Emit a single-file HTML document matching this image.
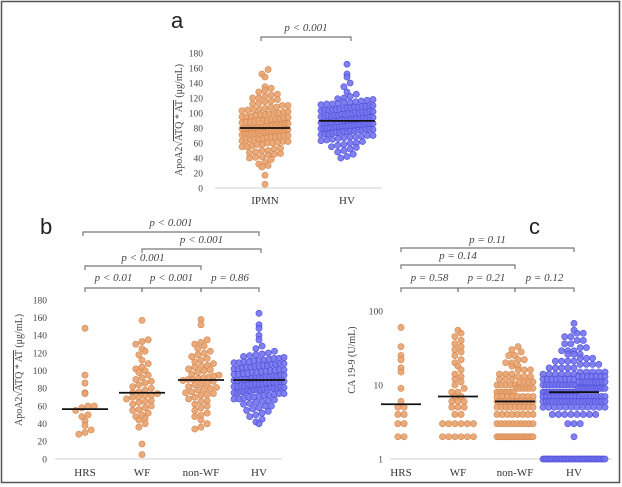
<!DOCTYPE html>
<html><head><meta charset="utf-8"><style>
html,body{margin:0;padding:0;background:#fff}
svg{display:block}
.tk{font-family:"Liberation Serif",serif;font-size:9.5px;fill:#444}
.cat{font-family:"Liberation Serif",serif;font-size:11px;fill:#333}
.pv{font-family:"Liberation Serif",serif;font-size:11px;font-style:italic;fill:#444}
.ttl{font-family:"Liberation Serif",serif;font-size:10px;fill:#444}
.lab{font-family:"Liberation Sans",sans-serif;font-size:22px;fill:#222}
</style></head><body>
<svg id="fig" width="622" height="487" viewBox="0 0 622 487" xmlns="http://www.w3.org/2000/svg">
<rect x="1.5" y="1.5" width="618" height="481" fill="none" stroke="#555" stroke-width="1.5"/>
<text class="lab" x="171" y="28">a</text>
<text class="lab" x="40" y="234">b</text>
<text class="lab" x="529" y="234">c</text>
<text class="ttl" transform="translate(182,120) rotate(-90)" text-anchor="middle">ApoA2√<tspan style="text-decoration:overline">ATQ * AT</tspan> (μg/mL)</text>
<text class="ttl" transform="translate(22,370) rotate(-90)" text-anchor="middle">ApoA2√<tspan style="text-decoration:overline">ATQ * AT</tspan> (μg/mL)</text>
<text class="ttl" transform="translate(355,360) rotate(-90)" text-anchor="middle">CA 19-9 (U/mL)</text>
<g id="ga"></g><g id="gb"></g><g id="gc"></g>
</svg>
<script>
// ---- data ----
const catsA = ["IPMN","HV"];
const catsBC = ["HRS","WF","non-WF","HV"];
const ticksLin = [0,20,40,60,80,100,120,140,160,180];
const ticksLog = [1,10,100];
const ipmnVals = [5,17,28,30,32,35,38,40,41,42,44,45,46,47,48,50,50,52,53,55,55,56,58,58,60,60,61,62,62,63,63,64,65,65,66,67,68,68,69,70,70,71,72,72,73,73,74,74,74,75,75,76,76,77,78,78,79,79,80,80,80,81,81,82,82,83,84,84,85,85,86,86,87,88,88,89,90,90,90,91,92,92,93,94,95,95,96,97,98,98,99,100,100,101,102,103,104,105,105,106,108,108,110,110,112,113,115,116,118,120,120,122,124,125,128,130,133,135,148,152,158];
const hvVals = [40,42,45,48,50,52,54,55,57,58,60,60,62,63,64,65,66,67,68,68,69,70,70,71,72,72,73,74,74,75,75,76,76,77,77,78,78,78,79,79,80,80,80,81,81,82,82,83,83,84,84,85,85,85,86,86,87,87,88,88,89,89,90,90,90,91,91,92,92,93,93,94,94,95,95,96,96,97,97,98,98,99,99,100,100,101,101,102,102,103,104,104,105,105,106,106,107,107,108,108,109,109,110,110,111,112,112,113,114,114,115,116,117,118,119,120,122,125,128,135,140,148,152,165];
const hrsVals = [28,30,33,38,43,48,50,55,58,60,60,74,75,86,95,148];
const wfVals = [5,17,36,40,44,46,48,50,52,55,56,58,60,62,64,65,66,68,70,70,72,72,74,75,76,78,80,82,84,86,88,90,92,95,98,100,102,104,108,112,118,122,125,130,133,135,157];
const nonwfVals = [34,36,40,44,48,50,52,55,58,60,62,65,66,68,70,72,73,74,75,76,78,79,80,81,82,84,85,86,88,89,90,90,91,92,93,94,95,96,98,100,101,102,104,105,106,108,110,112,114,116,118,120,122,125,128,130,132,135,152,158];
// CA19-9 as [value, count] runs
const caHrs = [[2,2],[3,2],[4,2],[5,2],[6,1],[9,1],[15,1],[17,1],[22,1],[25,1],[33,1],[60,1]];
const caWf = [[2,6],[3,6],[4,2],[5,3],[6,3],[7,2],[8,2],[9,1],[10,1],[11,1],[12,1],[13,1],[14,1],[16,1],[18,1],[20,1],[22,1],[25,1],[28,1],[30,1],[33,1],[36,1],[40,1],[45,1],[50,1],[55,1]];
const caNonwf = [[2,18],[3,10],[4,8],[5,9],[6,10],[7,8],[8,6],[9,6],[10,5],[11,4],[12,3],[13,3],[14,3],[16,3],[18,2],[20,2],[22,2],[25,2],[28,1],[30,1],[33,1]];
const caHv = [[1,36],[2,1],[3,3],[4,8],[5,12],[6,20],[7,18],[8,16],[9,13],[10,11],[11,9],[12,8],[13,7],[14,6],[15,5],[17,5],[19,4],[21,4],[23,3],[26,3],[29,3],[32,2],[36,2],[40,2],[45,2],[50,2],[55,1],[68,1]];
const pA = ["p < 0.001"];
const pB = ["p < 0.01","p < 0.001","p = 0.86","p < 0.001","p < 0.001","p < 0.001"];
const pC = ["p = 0.58","p = 0.21","p = 0.12","p = 0.14","p = 0.11"];
// ---- helpers ----
const NS="http://www.w3.org/2000/svg";
function mk(parent,tag,attrs){const e=document.createElementNS(NS,tag);for(const k in attrs)e.setAttribute(k,attrs[k]);parent.appendChild(e);return e;}
function expand(runs){const o=[];runs.forEach(r=>{for(let i=0;i<r[1];i++)o.push(r[0]);});return o;}
function median(a){const s=a.slice().sort((x,y)=>x-y);const n=s.length;return n%2?s[(n-1)/2]:(s[n/2-1]+s[n/2])/2;}
const ORANGE={f:"#E8A26E",s:"#D6864C"}, BLUE={f:"#7272EE",s:"#4E4ED8"};
function swarm(g,vals,cx,yf,col,maxW,name){
  const bins={};
  vals.forEach(v=>{const py=yf(v);const b=Math.round(py/6);(bins[b]=bins[b]||[]).push(py);});
  Object.keys(bins).forEach(b=>{
    const arr=bins[b];const n=arr.length;
    const sp=Math.min(6.2,maxW/Math.max(n-1,1));
    arr.forEach((py,i)=>{
      const c=mk(g,"circle",{cx:cx+(i-(n-1)/2)*sp,cy:py,r:3.1,fill:col.f,stroke:col.s,"stroke-width":0.6,"fill-opacity":0.9});
      
      
    });
  });
}
function medLine(g,val,cx,yf,hw,name){
  const l=mk(g,"line",{x1:cx-hw,x2:cx+hw,y1:yf(val),y2:yf(val),stroke:"#111","stroke-width":1.8});
  
  
}
function bracket(g,x1,x2,y,txt,ty,name){
  const p=mk(g,"path",{d:`M${x1},${y+4}V${y}H${x2}V${y+4}`,fill:"none",stroke:"#777","stroke-width":1.2});
  
  
  const t=mk(g,"text",{x:(x1+x2)/2,y:ty,"text-anchor":"middle",class:"pv"});t.textContent=txt;
  
  
}
function axes(g,ticks,yf,x0,x1,tx,name,ybase){
  const a=mk(g,"line",{x1:x0,x2:x1,y1:ybase,y2:ybase,stroke:"#d9d9d9","stroke-width":1.3});
  
  
  ticks.forEach(v=>{const t=mk(g,"text",{x:tx,y:yf(v)+3.3,"text-anchor":"end",class:"tk"});t.textContent=v;
    
    });
}
function catLabels(g,cats,xs,y,name){cats.forEach((c,i)=>{const t=mk(g,"text",{x:xs[i],y:y,"text-anchor":"middle",class:"cat"});t.textContent=c;
  
  });}
// ---- panel a ----
(function(){
  const g=document.getElementById("ga");
  const y=v=>188-v*0.75; const xs=[265,347];
  axes(g,ticksLin,y,215,382,203,"panel-a",188);
  catLabels(g,catsA,xs,204,"panel-a");
  swarm(g,ipmnVals,xs[0],y,ORANGE,46,"ipmn");
  swarm(g,hvVals,xs[1],y,BLUE,52,"hv");
  medLine(g,median(ipmnVals),xs[0],y,25,"ipmn");
  medLine(g,median(hvVals),xs[1],y,28,"hv");
  bracket(g,261,351,37,pA[0],31,"panel-a-bracket");
})();
// ---- panel b ----
(function(){
  const g=document.getElementById("gb");
  const y=v=>459-v*0.883; const xs=[85,142,201,259];
  axes(g,ticksLin,y,55,282,47,"panel-b",459);
  catLabels(g,catsBC,xs,476,"panel-b");
  const groups=[hrsVals,wfVals,nonwfVals,hvVals];
  groups.forEach((vals,i)=>{swarm(g,vals,xs[i],y,i===3?BLUE:ORANGE,i===3?50:36,"panel-b-"+catsBC[i].toLowerCase());
    medLine(g,median(vals),xs[i],y,i===3?26:23,"panel-b-"+catsBC[i].toLowerCase());});
  bracket(g,xs[0],xs[1],288,pB[0],281,"bracket-hrs-wf");
  bracket(g,xs[1],xs[2],288,pB[1],281,"bracket-wf-nonwf");
  bracket(g,xs[2],xs[3],288,pB[2],281,"bracket-nonwf-hv");
  bracket(g,xs[0],xs[2],266,pB[3],261,"bracket-hrs-nonwf");
  bracket(g,xs[1],xs[3]+2,249,pB[4],243,"bracket-wf-hv");
  bracket(g,xs[0]-2,xs[3],232,pB[5],226,"bracket-hrs-hv");
})();
// ---- panel c ----
(function(){
  const g=document.getElementById("gc");
  const y=v=>459-Math.log10(v)*74; const xs=[401,458,515,574];
  axes(g,ticksLog,y,390,612,383,"panel-c",459);
  catLabels(g,catsBC,xs,476,"panel-c");
  const groups=[expand(caHrs),expand(caWf),expand(caNonwf),expand(caHv)];
  groups.forEach((vals,i)=>{swarm(g,vals,xs[i],y,i===3?BLUE:ORANGE,i===3?62:36,"panel-c-"+catsBC[i].toLowerCase());
    medLine(g,median(vals),xs[i],y,i===3?25:20,"panel-c-"+catsBC[i].toLowerCase());});
  bracket(g,xs[0],xs[1],288,pC[0],281,"c-bracket-hrs-wf");
  bracket(g,xs[1],xs[2],288,pC[1],281,"c-bracket-wf-nonwf");
  bracket(g,xs[2],xs[3],288,pC[2],281,"c-bracket-nonwf-hv");
  bracket(g,xs[0],xs[2],265,pC[3],259,"c-bracket-hrs-nonwf");
  bracket(g,xs[0],xs[3],248,pC[4],243,"c-bracket-hrs-hv");
})();
</script>
</body></html>
